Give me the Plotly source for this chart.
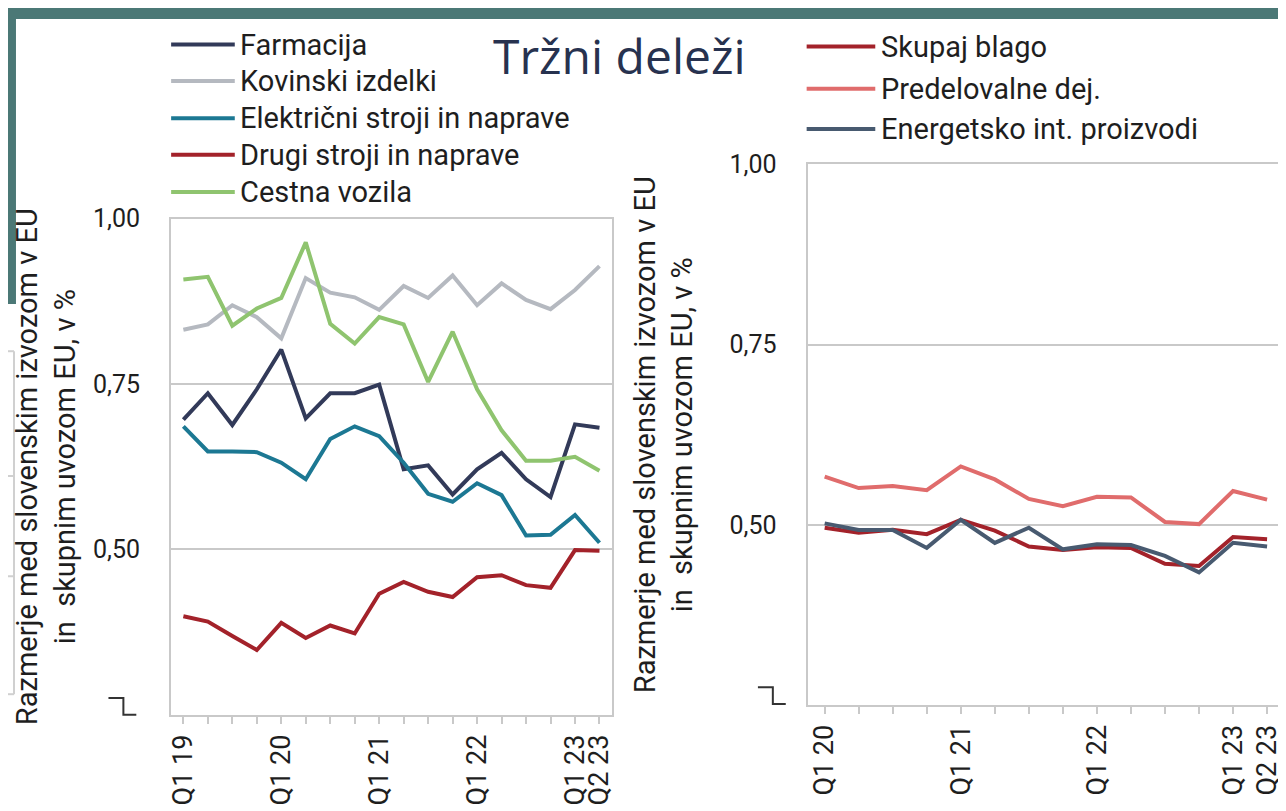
import plotly.graph_objects as go

W, H = 1286, 811
OX, OY = 8, 8  # odmik zaradi roba strani v brskalniku

quarters_left = ["Q1 19", "Q2 19", "Q3 19", "Q4 19",
                 "Q1 20", "Q2 20", "Q3 20", "Q4 20",
                 "Q1 21", "Q2 21", "Q3 21", "Q4 21",
                 "Q1 22", "Q2 22", "Q3 22", "Q4 22",
                 "Q1 23", "Q2 23"]
quarters_right = quarters_left[4:]
labels_left = ["Q1 19", "Q1 20", "Q1 21", "Q1 22", "Q1 23", "Q2 23"]
labels_right = ["Q1 20", "Q1 21", "Q1 22", "Q1 23", "Q2 23"]

# levi graf - skupine proizvodov
farmacija = [0.696, 0.736, 0.688, 0.742, 0.802, 0.698, 0.736, 0.736, 0.749,
             0.621, 0.627, 0.583, 0.621, 0.646, 0.606, 0.579, 0.689, 0.684]
kovinski = [0.832, 0.840, 0.869, 0.851, 0.819, 0.910, 0.888, 0.881, 0.862,
            0.898, 0.880, 0.914, 0.869, 0.902, 0.877, 0.863, 0.892, 0.928]
elektricni = [0.686, 0.648, 0.648, 0.647, 0.631, 0.606, 0.667, 0.686, 0.671,
              0.631, 0.584, 0.572, 0.600, 0.582, 0.521, 0.522, 0.552, 0.510]
drugi_stroji = [0.399, 0.391, 0.369, 0.348, 0.389, 0.366, 0.385, 0.373, 0.433,
                0.451, 0.436, 0.428, 0.458, 0.461, 0.446, 0.442, 0.499, 0.498]
cestna_vozila = [0.908, 0.912, 0.838, 0.864, 0.880, 0.964, 0.841, 0.811, 0.851,
                 0.840, 0.753, 0.829, 0.742, 0.680, 0.634, 0.634, 0.640, 0.619]

# desni graf - agregati
skupaj_blago = [0.496, 0.489, 0.493, 0.487, 0.507, 0.492, 0.470, 0.465, 0.469,
                0.468, 0.446, 0.443, 0.483, 0.480]
predelovalne = [0.567, 0.551, 0.554, 0.548, 0.581, 0.563, 0.536, 0.526, 0.539,
                0.538, 0.504, 0.501, 0.547, 0.535]
energetsko = [0.502, 0.493, 0.493, 0.468, 0.507, 0.475, 0.496, 0.466, 0.473,
              0.472, 0.457, 0.434, 0.475, 0.470]

y_ticks = [0.50, 0.75, 1.00]

left_series = [
    ("Farmacija", farmacija, "#323a59"),
    ("Kovinski izdelki", kovinski, "#b5b9c0"),
    ("Električni stroji in naprave", elektricni, "#1c7893"),
    ("Drugi stroji in naprave", drugi_stroji, "#a3222a"),
    ("Cestna vozila", cestna_vozila, "#8fc46f"),
]
right_series = [
    ("Skupaj blago", skupaj_blago, "#a3222a"),
    ("Predelovalne dej.", predelovalne, "#e06c6c"),
    ("Energetsko int. proizvodi", energetsko, "#485a70"),
]

FONT = "Roboto, Liberation Sans, sans-serif"
TXT = "#1e1e1e"
GRID = "#c9c9c9"


def px(x):
    return (x - OX) / W


def py(y):
    return 1 - (y - OY) / H


fig = go.Figure()
for name, vals, col in left_series:
    fig.add_trace(go.Scatter(x=quarters_left, y=vals, name=name, mode="lines",
                             line=dict(color=col, width=4), xaxis="x", yaxis="y",
                             showlegend=False))
for name, vals, col in right_series:
    fig.add_trace(go.Scatter(x=quarters_right, y=vals, name=name, mode="lines",
                             line=dict(color=col, width=4), xaxis="x2", yaxis="y2",
                             showlegend=False))

ytitle = "Razmerje med slovenskim izvozom v EU<br>in  skupnim uvozom EU, v %"


def xaxis_cfg(quarters, labels, dom, rng, anchor):
    return dict(domain=dom, anchor=anchor, type="category", range=rng,
                tickmode="array", tickvals=quarters,
                ticktext=[q if q in labels else "" for q in quarters],
                tickangle=-90, ticks="outside", ticklen=7, tickwidth=2, tickcolor=GRID,
                showline=True, linecolor=GRID, linewidth=2, mirror=True,
                showgrid=False, zeroline=False,
                tickfont=dict(family=FONT, size=27, color=TXT))


def yaxis_cfg(anchor, dom, standoff):
    return dict(domain=dom, anchor=anchor, range=[0.25, 1.0],
                tickmode="array", tickvals=y_ticks, tickformat=".2f",
                showline=True, linecolor=GRID, linewidth=2, mirror=True,
                showgrid=True, gridcolor=GRID, gridwidth=2, zeroline=False,
                ticks="", ticklabelstandoff=24,
                tickfont=dict(family=FONT, size=25, color=TXT),
                title=dict(text=ytitle, font=dict(family=FONT, size=29, color=TXT),
                           standoff=standoff))


shapes = [
    # okvir prosojnice
    dict(type="rect", xref="paper", yref="paper", x0=px(-20), x1=1, y0=py(5), y1=py(-20),
         fillcolor="#4b7876", line_width=0, layer="below"),
    dict(type="rect", xref="paper", yref="paper", x0=px(-20), x1=px(12), y0=py(295), y1=py(-20),
         fillcolor="#4b7876", line_width=0, layer="below"),
    dict(type="line", xref="paper", yref="paper", x0=px(10), x1=px(10), y0=py(343), y1=py(692),
         line=dict(color="#d0d0d0", width=2)),
]
for yy in [343, 470, 572, 692]:
    shapes.append(dict(type="line", xref="paper", yref="paper", x0=px(-20), x1=px(10),
                       y0=py(yy), y1=py(yy), line=dict(color="#d0d0d0", width=2)))

# oznaka prekinjene osi
for bx, by in [(105, 696), (758, 685)]:
    shapes.append(dict(type="path", xref="paper", yref="paper",
                       path=f"M{px(bx)},{py(by)} L{px(bx + 15)},{py(by)} "
                            f"L{px(bx + 15)},{py(by + 17)} L{px(bx + 28)},{py(by + 17)}",
                       line=dict(color="#333333", width=2)))

annotations = [dict(text="Tržni deleži", xref="paper", yref="paper", x=px(619), y=py(42),
                    xanchor="center", yanchor="middle", showarrow=False,
                    font=dict(family="Open Sans, sans-serif", size=48, color="#27324f"))]

# legenda
for (name, vals, col), yy in zip(left_series, [31, 68, 106, 143, 181]):
    shapes.append(dict(type="line", xref="paper", yref="paper", x0=px(168), x1=px(232),
                       y0=py(yy), y1=py(yy), line=dict(color=col, width=4)))
    annotations.append(dict(text=name, xref="paper", yref="paper", x=px(235), y=py(yy),
                            xanchor="left", yanchor="middle", showarrow=False,
                            font=dict(family=FONT, size=29, color=TXT)))
for (name, vals, col), yy in zip(right_series, [33, 76, 117]):
    shapes.append(dict(type="line", xref="paper", yref="paper", x0=px(807), x1=px(876),
                       y0=py(yy), y1=py(yy), line=dict(color=col, width=4)))
    annotations.append(dict(text=name, xref="paper", yref="paper", x=px(880), y=py(yy),
                            xanchor="left", yanchor="middle", showarrow=False,
                            font=dict(family=FONT, size=29, color=TXT)))

fig.update_layout(
    width=W, height=H,
    margin=dict(l=0, r=0, t=0, b=0),
    paper_bgcolor="white", plot_bgcolor="white",
    separators=",.",
    showlegend=False,
    xaxis=xaxis_cfg(quarters_left, labels_left, [px(168), px(611)], [-0.5, 17.5], "y"),
    yaxis=yaxis_cfg("x", [py(713), py(208)], 9),
    xaxis2=xaxis_cfg(quarters_right, labels_right, [px(808), px(1285)], [-0.5, 13.44], "y2"),
    yaxis2=yaxis_cfg("x2", [py(703), py(153)], 28),
    shapes=shapes,
    annotations=annotations,
)

fig.write_html("out.html")
